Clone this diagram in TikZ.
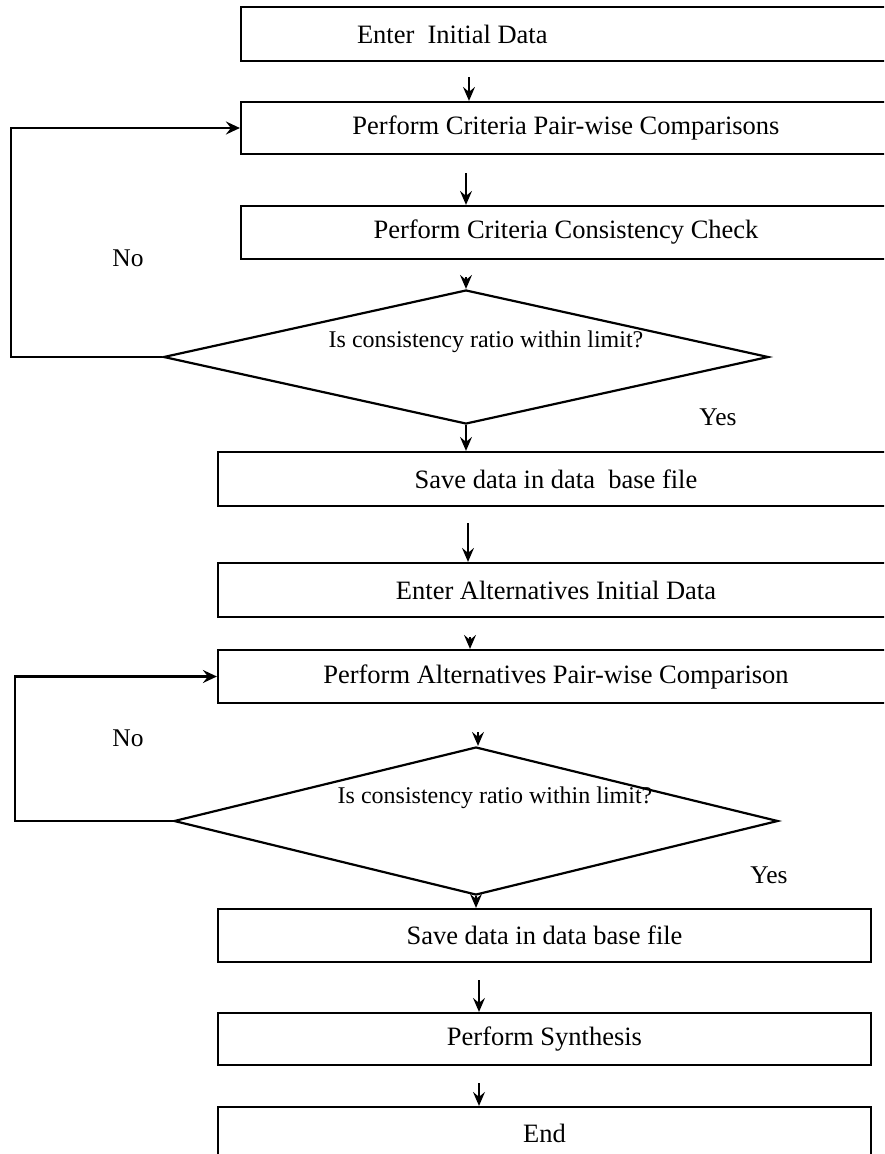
\documentclass[tikz,border=0pt]{standalone}
\usepackage{fontspec}
\setmainfont{Liberation Serif}
\usetikzlibrary{shapes.geometric,arrows.meta}
\begin{document}
\begin{tikzpicture}[x=1pt,y=-1pt,
    stepbox/.style={draw,line width=2.2pt,rectangle,inner sep=0pt,
        font=\fontsize{26.5}{30}\selectfont},
    decision/.style={draw,line width=2.2pt,diamond,inner sep=0pt},
    qtext/.style={font=\fontsize{24}{28}\selectfont,inner sep=0pt},
    anstext/.style={font=\fontsize{25.5}{30}\selectfont,inner sep=0pt},
    arr/.style={line width=1.6pt,-{Stealth[length=14pt,width=12pt,inset=5pt]}},
    back/.style={line width=2.2pt,-{Stealth[length=14pt,width=13pt,inset=5pt]}}]
    \useasboundingbox (0,0) rectangle (884,1154);
    \clip (0,0) rectangle (884,1154);

    % Boxes of the criteria part
    \node [stepbox,minimum width=650,minimum height=54,text width=418,
        inner xsep=116,align=flush left] (enter) at (566,34) {Enter\ \ Initial Data};
    \node [stepbox,minimum width=650,minimum height=52] (critpair) at (566,128)
        {Perform Criteria Pair-wise Comparisons};
    \node [stepbox,minimum width=650,minimum height=53] (critcheck) at (566,232.5)
        {Perform Criteria Consistency Check};

    % First decision
    \node [decision,minimum width=605,minimum height=134] (dec1) at (466,357) {};
    \node [qtext] (q1) at (486,342) {Is consistency ratio within limit?};
    \node [anstext] (no1) at (128,258) {No};
    \node [anstext] (yes1) at (718,417) {Yes};

    % Boxes of the alternatives part
    \node [stepbox,minimum width=676,minimum height=54] (save1) at (556,479)
        {Save data in data\ \ base file};
    \node [stepbox,minimum width=676,minimum height=54] (altenter) at (556,590)
        {Enter Alternatives Initial Data};
    \node [stepbox,minimum width=676,minimum height=53] (altpair) at (556,676.5)
        {Perform Alternatives Pair-wise Comparison};

    % Second decision
    \node [decision,minimum width=604,minimum height=148] (dec2) at (476,821) {};
    \node [qtext] (q2) at (495,798) {Is consistency ratio within limit?};
    \node [anstext] (no2) at (128,738) {No};
    \node [anstext] (yes2) at (769,875) {Yes};

    % Last boxes
    \node [stepbox,minimum width=653,minimum height=53] (save2) at (544.5,935.5)
        {Save data in data base file};
    \node [stepbox,minimum width=653,minimum height=52] (synth) at (544.5,1039)
        {Perform Synthesis};
    \node [stepbox,minimum width=653,minimum height=53] (finish) at (544.5,1133.5)
        {End};

    % Arrow starts
    \coordinate (s1) at (469,77);
    \coordinate (s2) at (466,173);
    \coordinate (s3) at (466,277);
    \coordinate (s5) at (468,523);
    \coordinate (s6) at (470,637);
    \coordinate (s7) at (478,732);
    \coordinate (s9) at (479,980);
    \coordinate (s10) at (479,1083);
    \coordinate (loop1) at (11,0);
    \coordinate (loop2) at (15,0);

    % Arrows down the chart
    \draw [arr] (s1) -- (s1 |- critpair.north);
    \draw [arr] (s2) -- (s2 |- critcheck.north);
    \draw [arr] (s3) -- (s3 |- dec1.north);
    \draw [arr] (dec1.south) -- (dec1.south |- save1.north);
    \draw [arr] (s5) -- (s5 |- altenter.north);
    \draw [arr] (s6) -- (s6 |- altpair.north);
    \draw [arr] (s7) -- (s7 |- dec2.north);
    \draw [arr] (dec2.south) -- (dec2.south |- save2.north);
    \draw [arr] (s9) -- (s9 |- synth.north);
    \draw [arr] (s10) -- (s10 |- finish.north);

    % Loops back on No
    \draw [back] (dec1.west) -- (dec1.west -| loop1) |- (critpair.west);
    \draw [back] (dec2.west) -- (dec2.west -| loop2) |- (altpair.west);
\end{tikzpicture}
\end{document}
